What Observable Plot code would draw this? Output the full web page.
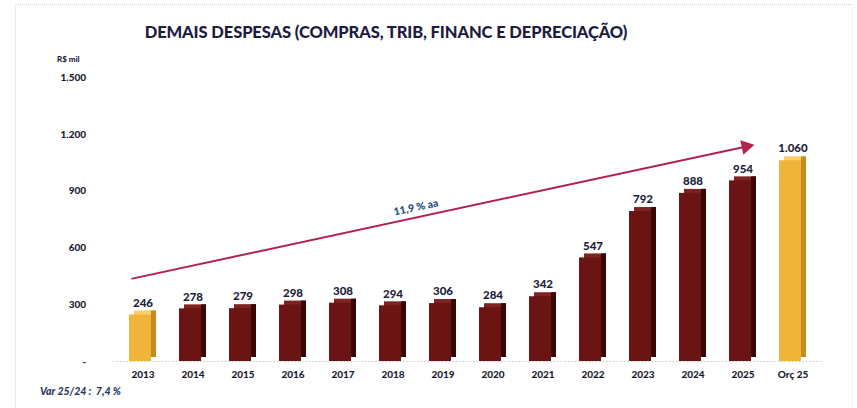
<!DOCTYPE html>
<html>
<head>
<meta charset="utf-8">
<script src="https://cdn.jsdelivr.net/npm/d3@7"></script>
<script src="https://cdn.jsdelivr.net/npm/@observablehq/plot@0.6"></script>
<style>
  html, body { margin: 0; padding: 0; background: #fff; }
  #wrap { position: relative; width: 857px; height: 408px; overflow: hidden; font-family: Lato, "Open Sans", sans-serif; }
  #border { position: absolute; left: 15px; top: 4px; width: 836px; height: 420px; border-top: 1px dotted #cfcfcf; border-left: 1px dotted #d8d8d8; border-right: 1px dotted #e4e4e4; }
  #title { position: absolute; left: 0; top: 22px; width: 772px; text-align: center; font-size: 16.5px; font-weight: 900; color: #1c1d3e; letter-spacing: -0.1px; }
  #unit { position: absolute; left: 57px; top: 54px; font-size: 8px; font-weight: 900; color: #1c1d3e; }
  #note { position: absolute; left: 40px; top: 385px; font-size: 10.5px; font-weight: 900; font-style: italic; color: #1f3864; }
  #chart { position: absolute; left: 0; top: 0; }
</style>
</head>
<body>
<div id="wrap">
  <div id="border"></div>
  <div id="chart"></div>
  <div id="title">DEMAIS DESPESAS (COMPRAS, TRIB, FINANC E DEPRECIAÇÃO)</div>
  <div id="unit">R$ mil</div>
  <div id="note">Var 25/24 :&nbsp; 7,4 %</div>
</div>
<script>
const categories = ["2013","2014","2015","2016","2017","2018","2019","2020","2021","2022","2023","2024","2025","Orç 25"];
const values = [246, 278, 279, 298, 308, 294, 306, 284, 342, 547, 792, 888, 954, 1060];
const highlighted = ["2013", "Orç 25"];
const yTicks = [0, 300, 600, 900, 1200, 1500];
const trendLabel = "11,9 % aa";
const trendFrom = {cat: "2013", value: 450};
const trendTo = {cat: "2025", value: 1132};
const trendTextAt = {cat: "2018", value: 813};

const br = d3.formatLocale({decimal: ",", thousands: ".", grouping: [3], currency: ["R$", ""]});
const fmt = br.format(",d");

const palette = {
  normal: {front: "#6a1414", top: "#7e2222", side: "#3a0707"},
  gold:   {front: "#f1b43a", top: "#f8d06a", side: "#c68b1d"}
};

const data = categories.map((c, i) => {
  const p = highlighted.includes(c) ? palette.gold : palette.normal;
  return {cat: c, value: values[i], front: p.front, top: p.top, side: p.side};
});

const step = 50.7;
const bandW = 27;
const pi = 1 - bandW / step;

const chart = Plot.plot({
  width: 857,
  height: 408,
  marginTop: 77,
  marginBottom: 47,
  marginLeft: 112.65,
  marginRight: 34.5,
  style: {fontFamily: "Lato, 'Open Sans', sans-serif", fontWeight: "900", fontSize: "10px", color: "#1c1d33", background: "transparent"},
  x: {type: "band", domain: categories, paddingInner: pi, paddingOuter: pi / 2, label: null},
  y: {domain: [0, 1500], label: null},
  color: {type: "identity"},
  marks: [
    Plot.ruleY([0], {stroke: "#c8c8c8", strokeDasharray: "1.5,2", strokeWidth: 1}),
    Plot.barY(data, {x: "cat", y: "value", fill: "top", dx: 5, dy: -4, insetRight: 5}),
    Plot.barY(data, {x: "cat", y: "value", fill: "side", dy: -4, insetLeft: 22}),
    Plot.barY(data, {x: "cat", y: "value", fill: "front", insetRight: 5}),
    Plot.text(data, {x: "cat", y: "value", text: d => fmt(d.value), dy: -12, fontSize: 11.5, fontWeight: 900, fill: "#1c1f3a"}),
    Plot.arrow([0], {
      x1: () => trendFrom.cat, y1: () => trendFrom.value,
      x2: () => trendTo.cat, y2: () => trendTo.value,
      stroke: "#b3224c", strokeWidth: 2, headLength: 0, insetStart: -11, insetEnd: 0
    }),
    Plot.dot([0], {x: () => trendTo.cat, y: () => trendTo.value, symbol: "triangle", r: 5.5, fill: "#b3224c", stroke: "none", rotate: 78, dx: 3, dy: -0.6}),
    Plot.text([trendLabel], {x: () => trendTextAt.cat, y: () => trendTextAt.value, text: d => d, dx: 23, rotate: -12, fontSize: 10.5, fontWeight: 900, fill: "#1f4e79"}),
    Plot.axisY({ticks: yTicks, tickSize: 0, tickPadding: 27, tickFormat: d => d === 0 ? "-" : fmt(d), fontSize: 10, fill: "#1c1d33"}),
    Plot.axisX({tickSize: 0, tickPadding: 9, fontSize: 10, fill: "#1c1d33"})
  ]
});
document.getElementById("chart").appendChild(chart);
</script>
</body>
</html>
